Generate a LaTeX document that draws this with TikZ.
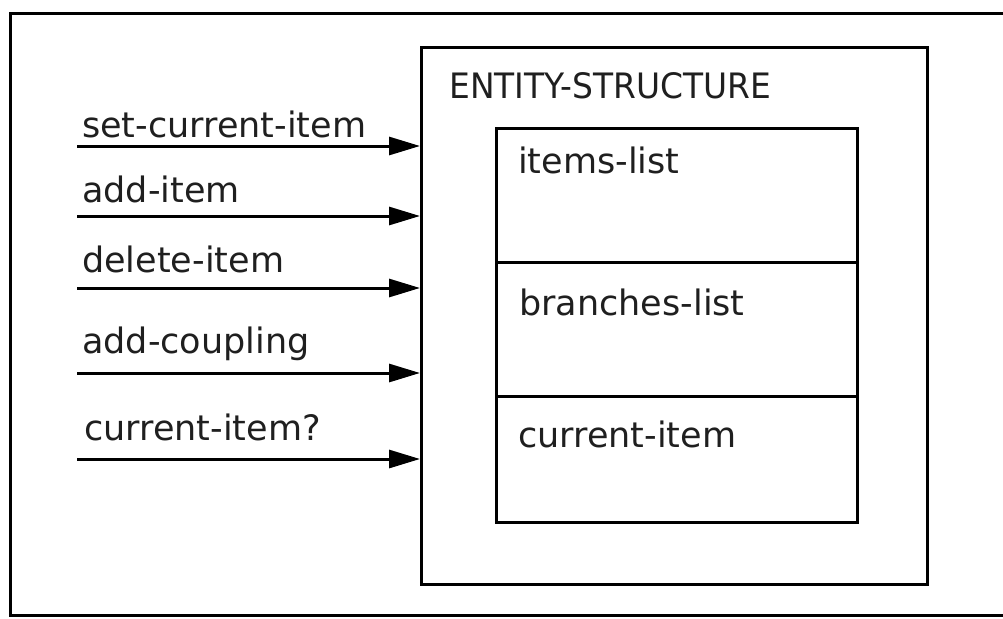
\documentclass[tikz,border=0pt]{standalone}
\usepackage{fontspec}
\setmainfont{DejaVu Sans}
\newfontfamily\capsfont{DejaVu Sans}[FakeStretch=0.94]
\usetikzlibrary{arrows.meta}

\tikzset{
  frameline/.style={line width=3pt, line cap=rect},
  boxline/.style={draw, line width=2.8pt, rectangle, inner sep=0pt, minimum width=0pt},
  lbl/.style={anchor=base west, inner sep=0pt, font=\fontsize{35}{40}\selectfont, text=black!88},
  msg/.style={line width=3pt, -{Triangle[length=31pt, width=18pt]}},
}

\begin{document}
\begin{tikzpicture}[x=1pt, y=-1pt]
  \useasboundingbox (0,0) rectangle (1003,618);

  % outer frame, open towards the right edge
  \draw[frameline] (1003,14) -- (10,14) -- (10,615) -- (1003,615);

  % entity structure box
  \node[boxline, minimum width=506pt, minimum height=537pt, anchor=north west] (es) at (420,46) {};
  \node[lbl, font=\capsfont\fontsize{35}{40}\selectfont] (estitle) at (449,98) {ENTITY-STRUCTURE};

  % its three slots
  \node[boxline, minimum width=361pt, minimum height=134pt, anchor=north west] (items) at (495,127) {};
  \node[boxline, minimum width=361pt, minimum height=134pt, anchor=north west] (branches) at (495,261) {};
  \node[boxline, minimum width=361pt, minimum height=126pt, anchor=north west] (current) at (495,395) {};
  \node[lbl] (itemst) at (518,173) {items-list};
  \node[lbl] (branchest) at (519,315) {branches-list};
  \node[lbl] (currentt) at (518,447) {current-item};

  % incoming messages
  \coordinate (m1) at (77,146);
  \coordinate (m2) at (77,216);
  \coordinate (m3) at (77,288);
  \coordinate (m4) at (77,373);
  \coordinate (m5) at (77,459);
  \draw[msg] (m1) -- (m1 -| es.west);
  \draw[msg] (m2) -- (m2 -| es.west);
  \draw[msg] (m3) -- (m3 -| es.west);
  \draw[msg] (m4) -- (m4 -| es.west);
  \draw[msg] (m5) -- (m5 -| es.west);
  \node[lbl] (l1) at (82,137) {set-current-item};
  \node[lbl] (l2) at (82,202) {add-item};
  \node[lbl] (l3) at (82,272) {delete-item};
  \node[lbl] (l4) at (82,353) {add-coupling};
  \node[lbl] (l5) at (84,440) {current-item?};
\end{tikzpicture}
\end{document}
